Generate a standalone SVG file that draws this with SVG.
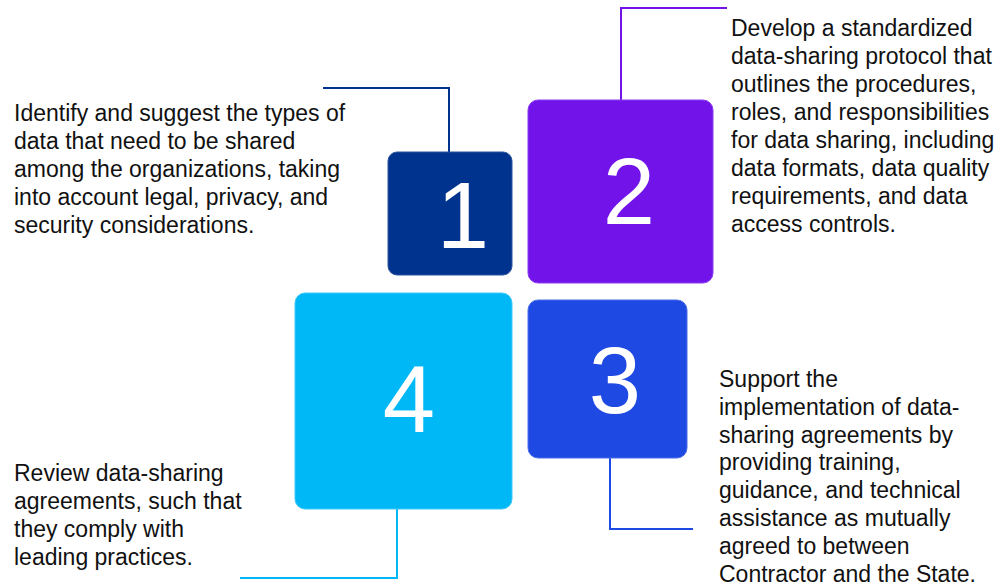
<svg xmlns="http://www.w3.org/2000/svg" width="1000" height="584" viewBox="0 0 1000 584">
  <style>
    .box { stroke-width: 1; }
    .num { font-family: "Liberation Sans", Arial, sans-serif; font-size: 94px; fill: #ffffff; text-anchor: middle; }
    .desc { font-family: "Liberation Sans", Arial, sans-serif; font-size: 23px; fill: #111111; }
    .conn { fill: none; stroke-width: 2; }
  </style>
  <rect width="1000" height="584" fill="#ffffff"/>

  <!-- leader lines from each square to its description -->
  <g id="connectors">
    <polyline class="conn" stroke="#00338D" points="323,88 449,88 449,152"/>
    <polyline class="conn" stroke="#7213EA" points="727,8 621,8 621,100"/>
    <polyline class="conn" stroke="#1E49E2" points="610,458 610,529 693,529"/>
    <polyline class="conn" stroke="#00B8F5" points="397,509 397,578 240,578"/>
  </g>

  <g id="step1">
    <rect class="box" x="388" y="152" width="124" height="123" rx="9" fill="#00338D" stroke="#2a55a0"/>
    <text class="num" x="463" y="248">1</text>
    <text class="desc" x="14" y="121">
      <tspan x="14" y="121">Identify and suggest the types of</tspan>
      <tspan x="14" y="149">data that need to be shared</tspan>
      <tspan x="14" y="177">among the organizations, taking</tspan>
      <tspan x="14" y="205">into account legal, privacy, and</tspan>
      <tspan x="14" y="233">security considerations.</tspan>
    </text>
  </g>

  <g id="step2">
    <rect class="box" x="528" y="100" width="185" height="183" rx="10" fill="#7213EA" stroke="#8a3cf0"/>
    <text class="num" x="629" y="224">2</text>
    <text class="desc">
      <tspan x="731" y="36">Develop a standardized</tspan>
      <tspan x="731" y="64">data-sharing protocol that</tspan>
      <tspan x="731" y="92">outlines the procedures,</tspan>
      <tspan x="731" y="120">roles, and responsibilities</tspan>
      <tspan x="731" y="148">for data sharing, including</tspan>
      <tspan x="731" y="176">data formats, data quality</tspan>
      <tspan x="731" y="204">requirements, and data</tspan>
      <tspan x="731" y="232">access controls.</tspan>
    </text>
  </g>

  <g id="step3">
    <rect class="box" x="528" y="300" width="159" height="158" rx="10" fill="#1E49E2" stroke="#4a6ee8"/>
    <text class="num" x="615" y="413">3</text>
    <text class="desc">
      <tspan x="719" y="387">Support the</tspan>
      <tspan x="719" y="415">implementation of data-</tspan>
      <tspan x="719" y="443">sharing agreements by</tspan>
      <tspan x="719" y="470">providing training,</tspan>
      <tspan x="719" y="498">guidance, and technical</tspan>
      <tspan x="719" y="526">assistance as mutually</tspan>
      <tspan x="719" y="554">agreed to between</tspan>
      <tspan x="719" y="582">Contractor and the State.</tspan>
    </text>
  </g>

  <g id="step4">
    <rect class="box" x="295" y="293" width="217" height="216" rx="10" fill="#00B8F5" stroke="#3cc8f7"/>
    <text class="num" x="409" y="432">4</text>
    <text class="desc">
      <tspan x="14" y="481">Review data-sharing</tspan>
      <tspan x="14" y="509">agreements, such that</tspan>
      <tspan x="14" y="537">they comply with</tspan>
      <tspan x="14" y="565">leading practices.</tspan>
    </text>
  </g>
</svg>
